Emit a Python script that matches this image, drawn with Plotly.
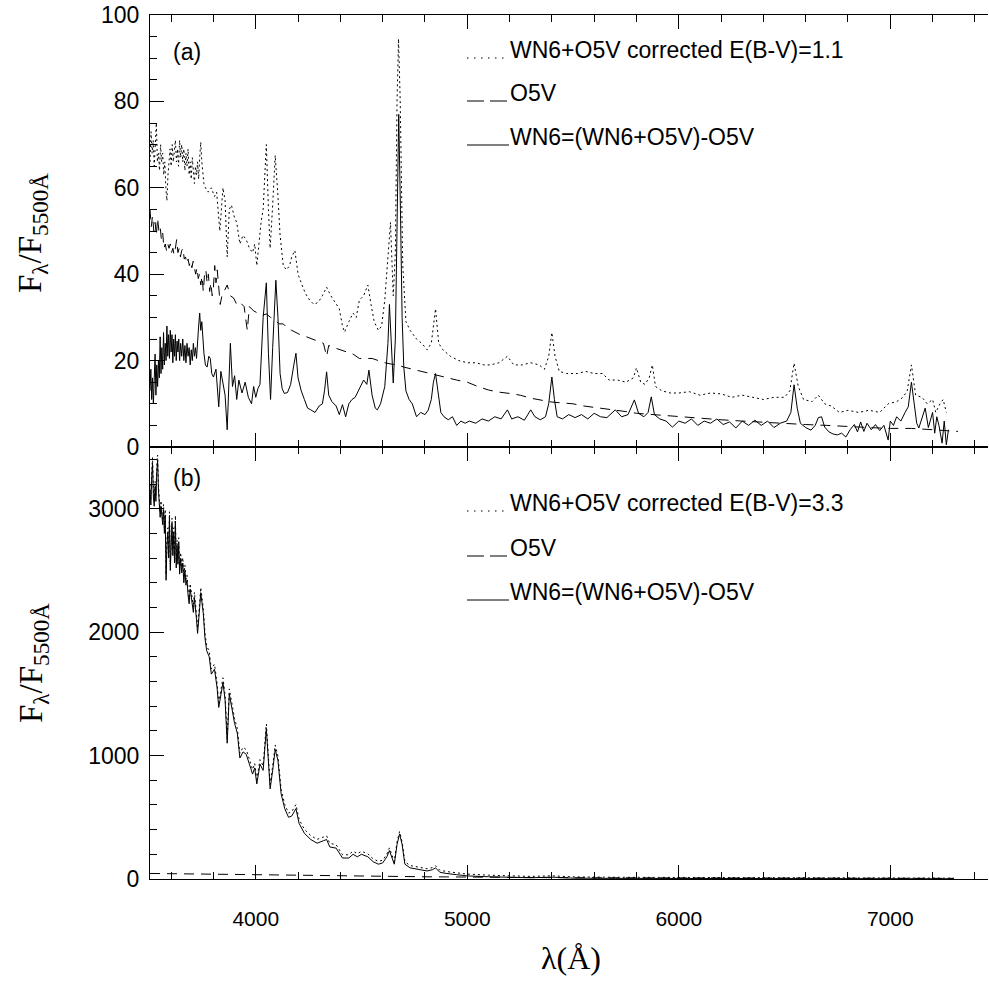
import plotly.graph_objects as go

# ---------------- data (wavelength in Angstrom, F_lambda / F_5500) ----------------
# Panel (a): E(B-V)=1.1  -- (wavelength, flux) pairs
A_COMBINED = [
    (3500, 66), (3505, 73), (3510, 68), (3515, 71), (3520, 65), (3525, 70), (3530, 75),
    (3535, 66), (3540, 68), (3545, 64), (3550, 70), (3555, 66), (3560, 68), (3565, 63),
    (3570, 66), (3575, 60), (3580, 57), (3585, 63), (3590, 66), (3595, 69), (3600, 65),
    (3605, 70), (3610, 66), (3615, 69), (3620, 71), (3625, 66), (3630, 69), (3635, 65),
    (3640, 71), (3645, 67), (3650, 70), (3655, 66), (3660, 69), (3665, 64), (3670, 68),
    (3675, 65), (3680, 69), (3685, 63), (3690, 66), (3695, 62), (3700, 67), (3705, 64),
    (3710, 61), (3715, 65), (3720, 63), (3725, 66), (3730, 62), (3735, 67), (3740, 70.6),
    (3745, 66), (3750, 63), (3755, 61), (3762, 60), (3775, 59),
    (3790, 60), (3805, 58), (3815, 59), (3830, 50), (3845, 60), (3855, 57), (3865, 44),
    (3875, 55), (3885, 56), (3900, 53), (3910, 52), (3925, 47), (3940, 49), (3955, 48),
    (3970, 46), (3985, 45), (3995, 47), (4005, 42), (4015, 47), (4025, 52), (4035, 55),
    (4050, 70), (4060, 55), (4068, 46), (4080, 56), (4092, 67.5), (4105, 58), (4115, 49),
    (4130, 42), (4145, 41), (4160, 42), (4170, 44), (4185, 45.5), (4200, 40), (4215, 38),
    (4235, 35.5), (4255, 34), (4275, 33), (4295, 33.5), (4315, 35), (4335, 37), (4355, 35),
    (4375, 33.5), (4395, 32), (4410, 28), (4420, 26.6), (4440, 29), (4460, 31), (4475, 30),
    (4490, 34), (4510, 35), (4530, 37.5), (4545, 33), (4560, 29), (4580, 27), (4595, 28),
    (4610, 34), (4625, 44), (4637, 52), (4650, 35), (4660, 45), (4668, 80), (4675, 94.5),
    (4683, 80), (4695, 42), (4710, 29), (4730, 27), (4760, 25), (4785, 24), (4810, 22.5),
    (4830, 24), (4850, 32), (4865, 24), (4885, 22.5), (4920, 21), (4960, 20), (5000, 19.5),
    (5040, 19.5), (5080, 19), (5110, 19), (5150, 19.5), (5190, 21), (5220, 19), (5260, 19),
    (5300, 19.5), (5340, 19), (5365, 18), (5385, 21), (5400, 26.5), (5415, 21), (5435, 17.5),
    (5470, 17), (5520, 17), (5560, 17.5), (5600, 17), (5640, 17), (5670, 15.5), (5710, 15.5),
    (5750, 15), (5785, 16), (5800, 18.3), (5820, 15), (5840, 14.5), (5860, 16), (5875, 19),
    (5890, 14), (5920, 13), (5960, 12.5), (6000, 12.5), (6050, 12.8), (6100, 12), (6150, 12.5),
    (6200, 12.3), (6250, 11.5), (6300, 12), (6350, 11.5), (6400, 11), (6450, 11.5), (6500, 11.5),
    (6525, 13), (6545, 19.4), (6565, 14), (6590, 11), (6630, 10.5), (6660, 12), (6690, 10),
    (6720, 9.5), (6760, 8), (6800, 8.5), (6850, 8), (6900, 8.5), (6950, 8), (6990, 10),
    (7030, 10.5), (7060, 11.5), (7080, 13), (7100, 19), (7120, 12), (7150, 11.5), (7175, 10),
    (7200, 11), (7215, 8), (7235, 10), (7250, 11), (7265, 8),
]

A_O5V = [
    (3500, 55), (3506, 51), (3512, 53.5), (3518, 50), (3524, 52), (3530, 49), (3536, 53),
    (3542, 50), (3548, 51), (3554, 48), (3560, 49.5), (3566, 46), (3572, 47), (3578, 45.5),
    (3584, 47), (3590, 46), (3596, 47), (3602, 45), (3608, 46), (3614, 44.5), (3620, 46),
    (3626, 48), (3632, 45), (3638, 46), (3644, 44), (3650, 45.5), (3656, 46), (3662, 43.5),
    (3668, 44), (3674, 42.5), (3680, 43.5), (3686, 42), (3692, 43), (3698, 41.5), (3704, 43),
    (3710, 41), (3716, 40), (3722, 41.5), (3728, 39), (3734, 40), (3740, 37.5), (3746, 39.5),
    (3752, 36), (3758, 40), (3764, 41), (3770, 38), (3776, 40), (3782, 36), (3788, 38),
    (3794, 35), (3800, 37), (3806, 42), (3812, 38), (3818, 41), (3825, 37), (3832, 33),
    (3840, 35), (3850, 36), (3865, 37.5), (3880, 35), (3895, 34.5), (3910, 33), (3925, 33.5),
    (3945, 32.5), (3960, 27), (3970, 32.5), (3990, 31.5), (4010, 31), (4030, 30.5), (4050, 30.8),
    (4070, 30), (4090, 29.5), (4110, 28.5), (4130, 28.5), (4150, 27.5), (4170, 27), (4190, 26.5),
    (4210, 26), (4240, 25.5), (4270, 25), (4300, 24.5), (4320, 24), (4335, 21), (4345, 23.5),
    (4370, 23), (4400, 22.5), (4430, 22), (4460, 21.5), (4490, 20.5), (4520, 20.5), (4550, 20.5),
    (4580, 20), (4610, 19.5), (4640, 19.2), (4670, 19), (4700, 18.5), (4740, 18), (4780, 17.5),
    (4820, 17), (4860, 16.5), (4900, 16), (4950, 15.5), (5000, 15), (5050, 14), (5100, 13.2),
    (5150, 12.7), (5200, 12.4), (5250, 12), (5300, 11.3), (5350, 10.9), (5400, 10.4),
    (5450, 10.2), (5500, 10), (5550, 9.5), (5600, 9.2), (5650, 8.8), (5700, 8.5), (5750, 8.2),
    (5800, 7.8), (5850, 7.6), (5900, 7.4), (5950, 7.2), (6000, 7), (6100, 6.7), (6200, 6.3),
    (6300, 6), (6400, 5.7), (6500, 5.4), (6600, 5.2), (6700, 5), (6800, 4.7), (6900, 4.5),
    (7000, 4.3), (7100, 4.3), (7200, 4), (7320, 3.6),
]

A_WN6 = [
    (3500, 13), (3504, 18), (3508, 11), (3512, 16), (3516, 10), (3520, 14), (3524, 21.5),
    (3528, 12), (3532, 19), (3536, 14), (3540, 20), (3544, 16), (3548, 25.5), (3552, 17),
    (3556, 23), (3560, 18), (3564, 26.5), (3568, 19), (3572, 24), (3576, 20), (3580, 28),
    (3584, 21), (3588, 26), (3592, 20.5), (3596, 27), (3600, 22), (3604, 26), (3608, 19.5),
    (3612, 25), (3616, 21), (3620, 26), (3624, 20), (3628, 24.5), (3632, 22), (3636, 25),
    (3640, 20), (3645, 24), (3650, 21), (3655, 25), (3660, 20), (3665, 23.5), (3670, 19.5),
    (3675, 24), (3680, 21), (3685, 23), (3690, 19), (3695, 22.5), (3700, 20), (3705, 24),
    (3710, 21), (3715, 23), (3720, 20.5), (3725, 26), (3730, 28), (3735, 31), (3740, 27),
    (3745, 29), (3750, 24), (3755, 21.7), (3762, 19), (3770, 18.5), (3778, 21), (3785, 20.5),
    (3792, 17), (3800, 16.2),
    (3812, 18), (3825, 9.3), (3835, 17.5), (3845, 15), (3855, 12), (3865, 4), (3880, 24),
    (3890, 14), (3900, 16.5), (3910, 11), (3920, 15.5), (3935, 12.5), (3950, 15), (3965, 11.5),
    (3980, 10), (3990, 14), (4000, 11.5), (4010, 13.5), (4020, 14.5), (4035, 30), (4050, 38),
    (4060, 21.7), (4070, 11), (4080, 23), (4095, 38.6), (4105, 30), (4115, 17), (4125, 13.5),
    (4135, 12.4), (4150, 12.6), (4165, 14.5), (4180, 19), (4190, 21.7), (4200, 16), (4215, 13),
    (4230, 11), (4245, 9), (4260, 8.6), (4280, 8), (4300, 9.5), (4315, 10), (4325, 13),
    (4335, 17.4), (4345, 12), (4360, 10.5), (4380, 9.5), (4395, 7.5), (4410, 9.8), (4425, 7),
    (4440, 10), (4455, 11), (4470, 11.5), (4490, 13.5), (4510, 15.5), (4525, 14.5), (4535, 17.8),
    (4550, 12), (4565, 9), (4575, 8.6), (4590, 10), (4610, 14), (4625, 24), (4632, 33),
    (4640, 24), (4650, 14.8), (4660, 25), (4668, 55), (4676, 77), (4684, 55), (4692, 30),
    (4700, 18.5), (4710, 13), (4725, 11), (4740, 10), (4760, 7), (4780, 8), (4800, 7.5),
    (4815, 8.5), (4830, 11), (4840, 15), (4850, 17), (4860, 13), (4875, 8), (4890, 7),
    (4910, 6.3), (4930, 7), (4950, 5), (4970, 6), (4990, 5.5), (5010, 6), (5040, 5.5),
    (5070, 6.5), (5100, 6), (5130, 7), (5160, 6.5), (5190, 8.6), (5210, 6.5), (5240, 7),
    (5270, 6.2), (5300, 8.6), (5320, 7), (5345, 6.3), (5370, 7), (5385, 10), (5400, 16.2),
    (5412, 11), (5425, 7), (5450, 6.5), (5480, 7.5), (5510, 6.8), (5540, 7.5), (5570, 6.5),
    (5600, 7.8), (5630, 7), (5660, 6.8), (5700, 8.6), (5730, 7), (5760, 7.5), (5790, 10.9),
    (5810, 7.8), (5835, 7), (5855, 8), (5870, 11.6), (5885, 7.5), (5910, 6.5), (5940, 6),
    (5970, 4.6), (6000, 6), (6030, 5.5), (6060, 6.5), (6090, 5), (6120, 6), (6150, 5.5),
    (6180, 6.5), (6210, 5.2), (6240, 5.8), (6270, 4.4), (6300, 6), (6330, 5), (6360, 6.2),
    (6390, 5), (6420, 6), (6450, 4.5), (6480, 5.5), (6510, 6), (6530, 8), (6545, 14.4),
    (6560, 9), (6575, 5.5), (6600, 4.5), (6625, 3.9), (6645, 5), (6660, 6.8), (6675, 7),
    (6690, 4.6), (6710, 3.5), (6730, 3), (6750, 2.8), (6770, 3.2), (6790, 2.3), (6810, 4),
    (6830, 5.2), (6845, 3.5), (6860, 5.8), (6875, 3.6), (6890, 5.5), (6910, 4), (6930, 5.2),
    (6950, 3.8), (6970, 5), (6990, 1.6), (7000, 6), (7015, 5), (7030, 7), (7050, 6),
    (7070, 8), (7085, 9.3), (7100, 15), (7115, 9), (7125, 5.5), (7135, 4.4), (7150, 6.5),
    (7165, 9), (7180, 4.5), (7190, 6.5), (7200, 8), (7210, 3.2), (7220, 7), (7230, 5),
    (7245, 0.9), (7255, 6), (7265, 0.5), (7275, 4),
]

# Panel (b): E(B-V)=3.3 -- (wavelength, WN6+O5V corrected, WN6) triples
B_SPEC = [
    (3500, 3195, 3150), (3504, 3075, 3030), (3508, 3295, 3250), (3512, 3415, 3370),
    (3516, 3145, 3100), (3520, 3065, 3020), (3524, 3225, 3180), (3528, 3105, 3060),
    (3532, 3345, 3300), (3536, 3435, 3390), (3540, 3195, 3150), (3544, 3095, 3050),
    (3548, 2975, 2930), (3552, 3065, 3020), (3556, 3005, 2960), (3560, 2915, 2870),
    (3564, 3035, 2990), (3568, 2845, 2800), (3572, 2995, 2950), (3576, 2465, 2420),
    (3580, 2745, 2700), (3584, 2845, 2800), (3588, 2645, 2600), (3592, 2975, 2930),
    (3596, 2545, 2500), (3600, 2795, 2750), (3604, 2925, 2880), (3608, 2665, 2620),
    (3612, 2845, 2800), (3616, 2605, 2560), (3620, 2945, 2900), (3624, 2565, 2520),
    (3628, 2745, 2700), (3632, 2595, 2550), (3636, 2765, 2720), (3640, 2515, 2470),
    (3645, 2645, 2600), (3650, 2525, 2480), (3655, 2604, 2560), (3660, 2444, 2400),
    (3665, 2544, 2500), (3670, 2424, 2380), (3675, 2464, 2420), (3680, 2344, 2300),
    (3685, 2273, 2230), (3690, 2393, 2350), (3695, 2313, 2270), (3700, 2243, 2200),
    (3705, 2203, 2160), (3710, 2323, 2280), (3715, 2192, 2150), (3720, 2142, 2100),
    (3725, 2032, 1990), (3730, 2192, 2150), (3735, 2242, 2200), (3740, 2362, 2320),
    (3745, 2292, 2250), (3752, 2192, 2150), (3760, 1991, 1950), (3768, 1891, 1850),
    (3780, 1841, 1800), (3790, 1701, 1660), (3805, 1741, 1700), (3817, 1590, 1550),
    (3825, 1430, 1390), (3835, 1540, 1500), (3845, 1630, 1590), (3855, 1490, 1450),
    (3865, 1140, 1100), (3875, 1540, 1500), (3885, 1429, 1390), (3900, 1299, 1260),
    (3913, 1219, 1180), (3925, 1018, 980), (3940, 1068, 1030), (3955, 1048, 1010),
    (3970, 968, 930), (3985, 887, 850), (3995, 937, 900), (4005, 807, 770),
    (4020, 967, 930), (4035, 917, 880), (4050, 1256, 1220), (4068, 766, 730),
    (4080, 916, 880), (4092, 1086, 1050), (4105, 995, 960), (4120, 725, 690),
    (4137, 605, 570), (4155, 534, 500), (4170, 544, 510), (4190, 603, 570),
    (4205, 483, 450), (4230, 402, 370), (4260, 352, 320), (4290, 321, 290),
    (4320, 340, 310), (4335, 350, 320), (4350, 289, 260), (4380, 278, 250),
    (4410, 197, 170), (4440, 196, 170), (4460, 226, 200), (4480, 205, 180),
    (4500, 225, 200), (4530, 204, 180), (4555, 163, 140), (4580, 143, 120),
    (4600, 152, 130), (4620, 202, 180), (4632, 252, 230), (4655, 141, 120),
    (4668, 301, 280), (4680, 385, 365), (4692, 300, 280), (4705, 140, 120),
    (4730, 109, 90), (4770, 98, 80), (4810, 83, 65), (4835, 92, 75),
    (4850, 107, 90), (4870, 72, 55), (4900, 61, 45), (4950, 50, 35),
    (5000, 40, 25), (5100, 31, 18), (5200, 25, 12), (5300, 21, 10),
    (5400, 26, 15), (5500, 17, 7), (5700, 14, 5), (6000, 12, 4),
    (6500, 9.5, 3), (7000, 7.5, 2), (7300, 7, 2),
]
B_O5V = [
    (3500, 45), (3600, 44), (3700, 42), (3800, 40), (3900, 38), (4000, 35), (4100, 33),
    (4200, 30), (4300, 28), (4400, 26), (4500, 24), (4600, 22), (4700, 20), (4800, 18),
    (4900, 17), (5000, 15), (5200, 13), (5400, 11), (5600, 10), (5800, 9), (6000, 8),
    (6500, 6.5), (7000, 5.5), (7300, 5),
]

LEGEND_A = ["WN6+O5V corrected E(B-V)=1.1", "O5V", "WN6=(WN6+O5V)-O5V"]
LEGEND_B = ["WN6+O5V corrected E(B-V)=3.3", "O5V", "WN6=(WN6+O5V)-O5V"]
X_RANGE = [3500, 7462]
YA_RANGE = [0, 100]
YB_RANGE = [0, 3500]

# ---------------- figure ----------------
W, H = 989, 983
ML, MR, MT, MB = 150, 1, 15, 104
PW, PH = W - ML - MR, H - MT - MB


def px(x):
    return (x - ML) / PW


def py(y):
    return (H - MB - y) / PH


DOT = "2px,3px"
DASH = "10px,7px"
BLACK = "black"

fig = go.Figure()


def add(x, y, xa, ya, dash):
    fig.add_trace(go.Scatter(x=list(x), y=list(y), mode="lines", xaxis=xa, yaxis=ya,
                             line=dict(color=BLACK, width=1, dash=dash), showlegend=False,
                             hoverinfo="skip"))


add([p[0] for p in A_COMBINED], [p[1] for p in A_COMBINED], "x", "y", DOT)
add([p[0] for p in A_O5V], [p[1] for p in A_O5V], "x", "y", DASH)
add([p[0] for p in A_WN6], [p[1] for p in A_WN6], "x", "y", "solid")

add([p[0] for p in B_SPEC], [p[1] for p in B_SPEC], "x2", "y2", DOT)
add([p[0] for p in B_O5V], [p[1] for p in B_O5V], "x2", "y2", DASH)
add([p[0] for p in B_SPEC], [p[2] for p in B_SPEC], "x2", "y2", "solid")

xtickfont = dict(family="Liberation Sans, Arial, sans-serif", size=21, color=BLACK)
ytickfont = dict(family="Liberation Sans, Arial, sans-serif", size=23, color=BLACK)

xcommon = dict(range=X_RANGE, showline=True, linecolor=BLACK, linewidth=1, mirror="ticks",
               ticks="inside", ticklen=14, tickwidth=1, tickcolor=BLACK, dtick=1000, tick0=0,
               minor=dict(ticks="inside", ticklen=7, dtick=200, tick0=0, tickcolor=BLACK,
                          tickwidth=1, showgrid=False),
               showgrid=False, zeroline=False, tickfont=xtickfont)


def ycommon(rng, dtick, mdtick):
    return dict(range=rng, showline=True, linecolor=BLACK, linewidth=1, mirror=False,
                ticks="inside", ticklen=14, tickwidth=1, tickcolor=BLACK, dtick=dtick, tick0=0,
                minor=dict(ticks="inside", ticklen=7, dtick=mdtick, tick0=0, tickcolor=BLACK,
                           tickwidth=1, showgrid=False),
                showgrid=False, zeroline=False, tickfont=ytickfont, ticklabelstandoff=5)


def yright(rng, dtick, over):
    return dict(range=rng, overlaying=over, side="right", showline=False, ticks="inside",
                ticklen=6, tickwidth=1, tickcolor=BLACK, dtick=dtick, tick0=0,
                showticklabels=False, showgrid=False, zeroline=False)


fig.update_layout(
    width=W, height=H, margin=dict(l=ML, r=MR, t=MT, b=MB),
    paper_bgcolor="white", plot_bgcolor="white",
    xaxis=dict(xcommon, anchor="y", showticklabels=False),
    xaxis2=dict(xcommon, anchor="y2", matches="x", ticklabelstandoff=21),
    yaxis=dict(ycommon(YA_RANGE, 20, 5), domain=[0.5, 1], anchor="x"),
    yaxis2=dict(ycommon(YB_RANGE, 1000, 200), domain=[0, 0.5], anchor="x2"),
    yaxis3=dict(yright(YA_RANGE, 20, "y"), anchor="x"),
    yaxis4=dict(yright(YB_RANGE, 1000, "y2"), anchor="x2"),
)

sans = dict(family="Liberation Sans, Arial, sans-serif", size=23, color=BLACK)
serif = dict(family="Liberation Serif, Times New Roman, serif", size=33, color=BLACK)

ann = []
ann.append(dict(text="(a)", x=px(171), y=py(52), xref="paper", yref="paper",
                xanchor="left", yanchor="middle", showarrow=False, font=sans))
ann.append(dict(text="(b)", x=px(171), y=py(478), xref="paper", yref="paper",
                xanchor="left", yanchor="middle", showarrow=False, font=sans))

shapes = []
for labels, rows in ((LEGEND_A, (50, 93, 137)), (LEGEND_B, (503, 548, 592))):
    for i, (lab, yc) in enumerate(zip(labels, rows)):
        ann.append(dict(text=lab, x=px(508), y=py(yc), xref="paper", yref="paper",
                        xanchor="left", yanchor="middle", showarrow=False, font=sans))
        yb = py(yc + 8)
        if i == 0:
            shapes.append(dict(type="line", xref="paper", yref="paper", x0=px(467), x1=px(508),
                               y0=yb, y1=yb, line=dict(color=BLACK, width=1, dash="1.5px,5.5px")))
        elif i == 1:
            for a, b in ((467, 484), (490, 507)):
                shapes.append(dict(type="line", xref="paper", yref="paper", x0=px(a), x1=px(b),
                                   y0=yb, y1=yb, line=dict(color=BLACK, width=1)))
        else:
            shapes.append(dict(type="line", xref="paper", yref="paper", x0=px(467), x1=px(509),
                               y0=yb, y1=yb, line=dict(color=BLACK, width=1)))

ytitle = "F<sub>λ</sub>/F<sub>5500Å</sub>"
ann.append(dict(text=ytitle, x=px(33), y=py(233), xref="paper", yref="paper",
                xanchor="center", yanchor="middle", textangle=-90, showarrow=False, font=serif))
ann.append(dict(text=ytitle, x=px(33), y=py(663), xref="paper", yref="paper",
                xanchor="center", yanchor="middle", textangle=-90, showarrow=False, font=serif))
ann.append(dict(text="λ(Å)", x=px(571), y=py(958), xref="paper", yref="paper",
                xanchor="center", yanchor="middle", showarrow=False,
                font=dict(serif, size=32)))

fig.update_layout(annotations=ann, shapes=shapes)

fig.write_html("out.html")
